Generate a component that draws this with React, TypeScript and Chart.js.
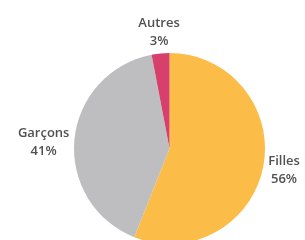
import React, { useEffect, useRef } from "react";
import { Chart, registerables } from "chart.js";

Chart.register(...registerables);

const categories = ["Filles", "Garçons", "Autres"];
const values = [56, 41, 3];
const valueLabels = ["56%", "41%", "3%"];
const colors = ["#FBBD47", "#BEBEC1", "#D6406B"];

const labelPlugin = {
  id: "outerLabels",
  afterDraw(chart: any) {
    const ctx = chart.ctx;
    const meta = chart.getDatasetMeta(0);
    ctx.save();
    ctx.font = "600 13px 'Open Sans'";
    ctx.fillStyle = "#505050";
    const lineH = 18;
    meta.data.forEach((arc: any, i: number) => {
      const { x, y, startAngle, endAngle, outerRadius } = arc.getProps(
        ["x", "y", "startAngle", "endAngle", "outerRadius"],
        true
      );
      const mid = (startAngle + endAngle) / 2;
      const r = outerRadius + 5;
      const ax = x + Math.cos(mid) * r;
      const ay = y + Math.sin(mid) * r;
      const cx = Math.cos(mid);
      const lines = [categories[i], valueLabels[i]];
      const w = Math.max(...lines.map((t) => ctx.measureText(t).width));
      ctx.textBaseline = "middle";
      ctx.textAlign = "center";
      if (Math.abs(cx) > 0.5) {
        const centerX = cx > 0 ? ax + w / 2 : ax - w / 2;
        const top = ay - lineH / 2 + 3;
        lines.forEach((t, k) => ctx.fillText(t, centerX, top + k * lineH));
      } else {
        const bottom = ay - lineH / 2 + 2;
        lines.forEach((t, k) =>
          ctx.fillText(t, ax - 1, bottom - (lines.length - 1 - k) * lineH)
        );
      }
    });
    ctx.restore();
  },
};

export default function App() {
  const ref = useRef<HTMLCanvasElement>(null);
  useEffect(() => {
    if (!ref.current) return;
    const chart = new Chart(ref.current, {
      type: "pie",
      data: {
        labels: categories,
        datasets: [
          {
            data: values,
            backgroundColor: colors,
            borderWidth: 0,
          },
        ],
      },
      options: {
        responsive: false,
        animation: false,
        layout: { padding: { left: 74, right: 40, top: 53, bottom: 0 } },
        plugins: { legend: { display: false }, tooltip: { enabled: false } },
      },
      plugins: [labelPlugin],
    });
    return () => chart.destroy();
  }, []);
  return (
    <div
      style={{
        position: "fixed",
        left: 0,
        top: 0,
        width: 305,
        height: 240,
        overflow: "hidden",
        background: "#fff",
      }}
    >
      <canvas ref={ref} width={305} height={244} />
    </div>
  );
}
